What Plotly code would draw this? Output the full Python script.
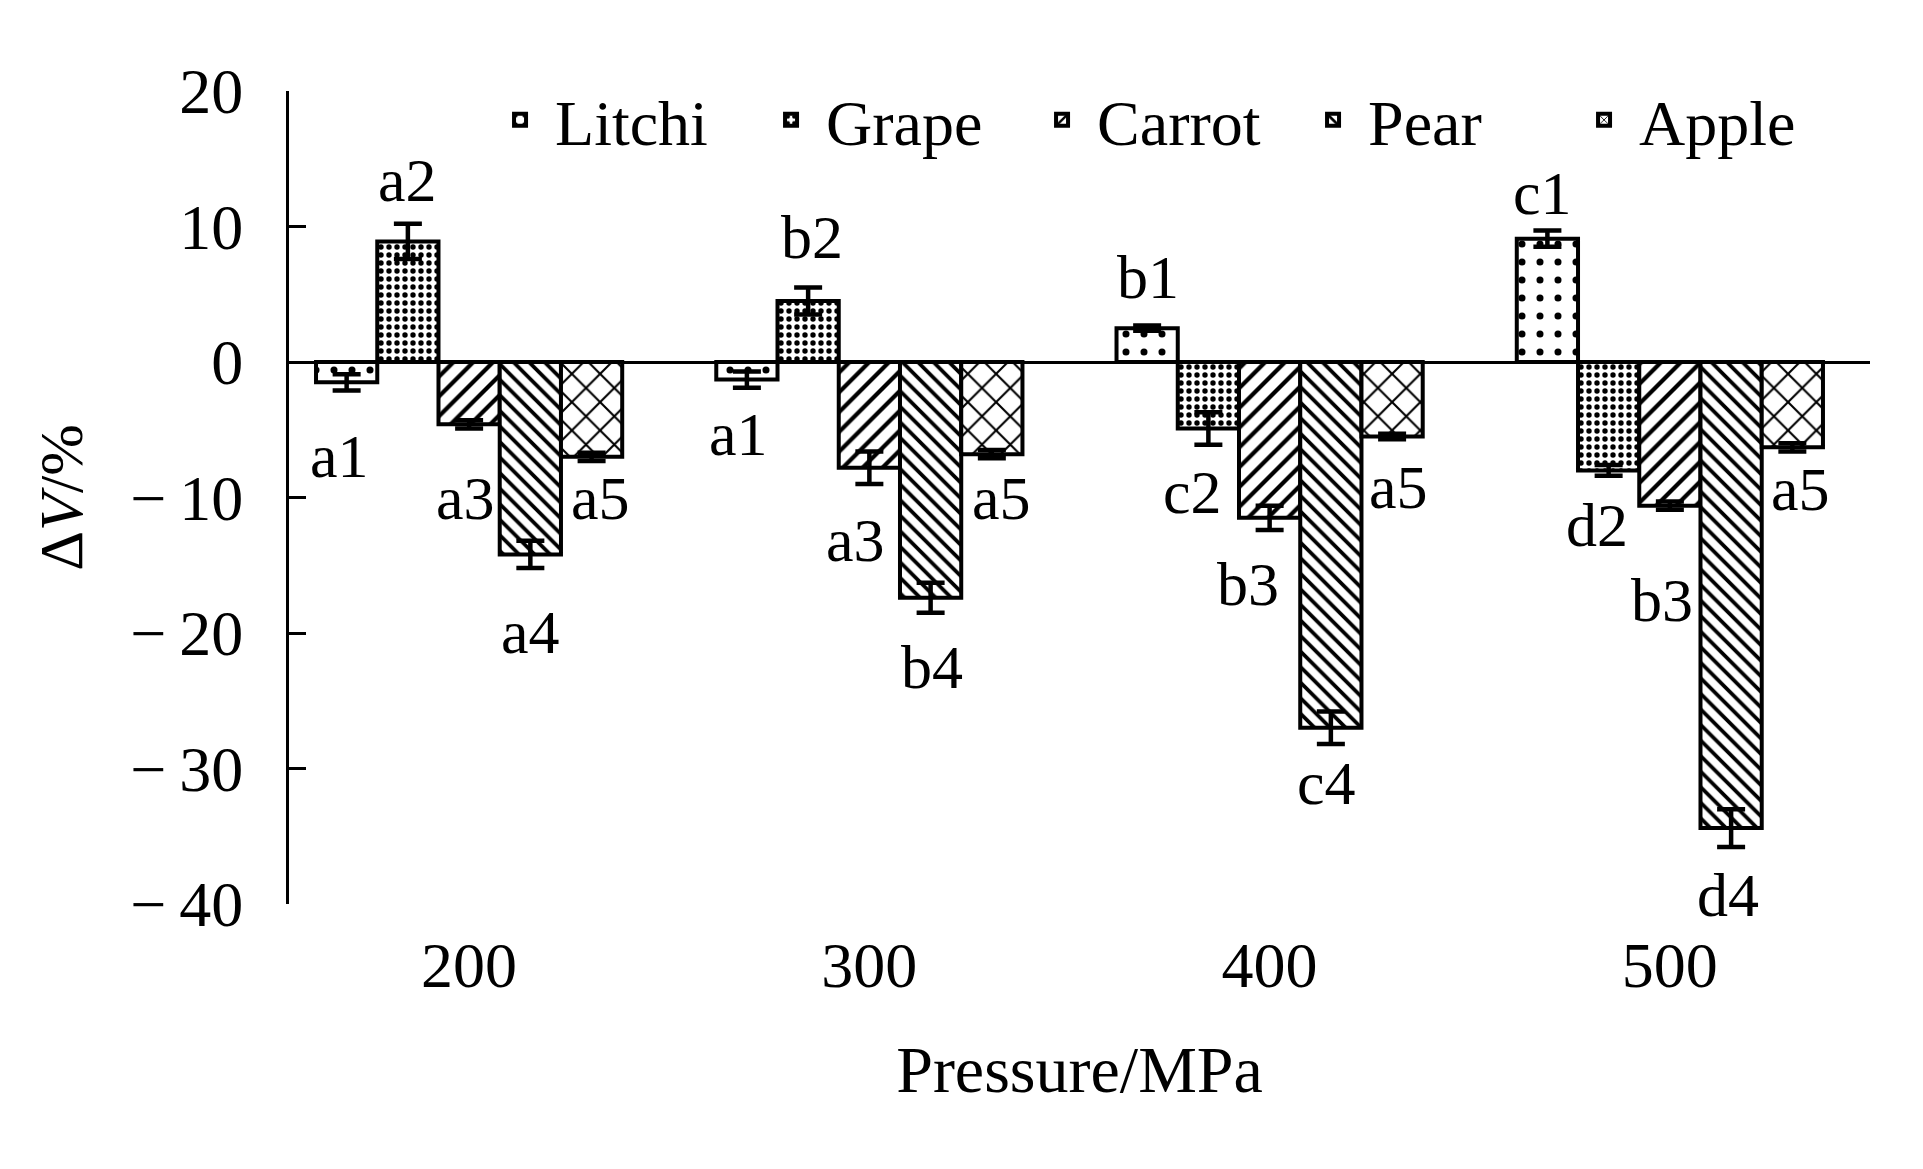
import plotly.graph_objects as go

# ---- data ----
pressures = [200, 300, 400, 500]
series = ["Litchi", "Grape", "Carrot", "Pear", "Apple"]

litchi = [-1.5, -1.3, 2.5, 9.1]
grape = [8.9, 4.5, -4.9, -8.0]
carrot = [-4.6, -7.8, -11.5, -10.6]
pear = [-14.2, -17.4, -27.0, -34.4]
apple = [-7.0, -6.8, -5.5, -6.3]

litchi_err = [0.6, 0.6, 0.2, 0.6]
grape_err = [1.3, 1.0, 1.2, 0.4]
carrot_err = [0.3, 1.2, 0.9, 0.3]
pear_err = [1.0, 1.1, 1.2, 1.4]
apple_err = [0.3, 0.3, 0.2, 0.3]

# significance letters per series (rows) and pressure (columns)
litchi_lbl = ["a1", "a1", "b1", "c1"]
grape_lbl = ["a2", "b2", "c2", "d2"]
carrot_lbl = ["a3", "a3", "b3", "b3"]
pear_lbl = ["a4", "b4", "c4", "d4"]
apple_lbl = ["a5", "a5", "a5", "a5"]

# vertical placement of the letters (axis units)
litchi_lbl_y = [-6.9, -5.3, 6.3, 12.5]
grape_lbl_y = [13.4, 9.2, -9.6, -12.0]
carrot_lbl_y = [-10.0, -13.1, -16.4, -17.6]
pear_lbl_y = [-19.9, -22.5, -31.1, -39.3]
apple_lbl_y = [-10.0, -10.0, -9.2, -9.4]

# small horizontal nudges of the letters (px)
litchi_lbl_dx = [-7, -8, 1, -5]
grape_lbl_dx = [0, 4, -16, -12]
carrot_lbl_dx = [-4, -14, -22, -8]
pear_lbl_dx = [0, 1, -4, -3]
apple_lbl_dx = [9, 10, 6, 8]

y_tickvals = [20, 10, 0, -10, -20, -30, -40]
y_ticktext = ["20", "10", "0", "\u2212\u200910", "\u2212\u200920", "\u2212\u200930", "\u2212\u200940"]

values = [litchi, grape, carrot, pear, apple]
errors = [litchi_err, grape_err, carrot_err, pear_err, apple_err]
labels = [litchi_lbl, grape_lbl, carrot_lbl, pear_lbl, apple_lbl]
labels_y = [litchi_lbl_y, grape_lbl_y, carrot_lbl_y, pear_lbl_y, apple_lbl_y]
labels_dx = [litchi_lbl_dx, grape_lbl_dx, carrot_lbl_dx, pear_lbl_dx, apple_lbl_dx]

patterns = [
    dict(shape=".", size=18, solidity=0.12),
    dict(shape=".", size=8, solidity=0.36),
    dict(shape="/", size=14, solidity=0.3),
    dict(shape="\\", size=11, solidity=0.34),
    dict(shape="x", size=20, solidity=0.2),
]

FONT = "Liberation Serif"
BARGAP = 0.235
CAT = 100.0
bar_w = CAT * (1 - BARGAP) / len(series)

fig = go.Figure()
for i, name in enumerate(series):
    p = patterns[i]
    fig.add_trace(go.Bar(
        name=name,
        x=pressures,
        y=values[i],
        marker=dict(
            color="white",
            line=dict(color="black", width=4),
            pattern=dict(shape=p["shape"], size=p["size"], solidity=p["solidity"],
                         fgcolor="black", bgcolor="white", fgopacity=1,
                         fillmode="overlay"),
        ),
        error_y=dict(type="data", array=errors[i], visible=True,
                     color="black", thickness=4.5, width=14),
    ))

annotations = []
for i in range(len(series)):
    off = (i - (len(series) - 1) / 2) * bar_w
    for j, pval in enumerate(pressures):
        annotations.append(dict(
            x=pval + off, y=labels_y[i][j], text=labels[i][j],
            xref="x", yref="y", showarrow=False, xshift=labels_dx[i][j],
            font=dict(family=FONT, size=62, color="black"),
        ))

fig.update_layout(
    width=1915, height=1161,
    barmode="group", bargap=BARGAP, bargroupgap=0,
    paper_bgcolor="white", plot_bgcolor="white",
    margin=dict(l=281, r=53, t=83, b=265),
    font=dict(family=FONT, size=64, color="black"),
    showlegend=True,
    legend=dict(
        orientation="h", x=0.124, xanchor="left", y=0.964, yanchor="middle",
        font=dict(family=FONT, size=64, color="black"),
        bgcolor="rgba(0,0,0,0)", itemwidth=60, traceorder="normal",
        entrywidth=196, entrywidthmode="pixels",
    ),
    annotations=annotations,
    xaxis=dict(
        range=[155, 550], tickvals=pressures, ticktext=[str(v) for v in pressures],
        showline=False, showgrid=False, zeroline=False, ticks="",
        ticklabelstandoff=18,
        tickfont=dict(family=FONT, size=64),
        title=dict(text="Pressure/MPa", font=dict(family=FONT, size=66), standoff=45),
    ),
    yaxis=dict(
        range=[-40, 20], tickvals=y_tickvals, ticktext=y_ticktext,
        showline=True, linecolor="black", linewidth=3,
        ticks="inside", ticklen=17, tickwidth=3, tickcolor="black",
        showgrid=False, zeroline=True, zerolinecolor="black", zerolinewidth=3,
        ticklabelstandoff=30,
        tickfont=dict(family=FONT, size=64),
        title=dict(text="\u0394<i>V</i>/%", font=dict(family=FONT, size=62), standoff=28),
    ),
)

fig.write_html("out.html")
